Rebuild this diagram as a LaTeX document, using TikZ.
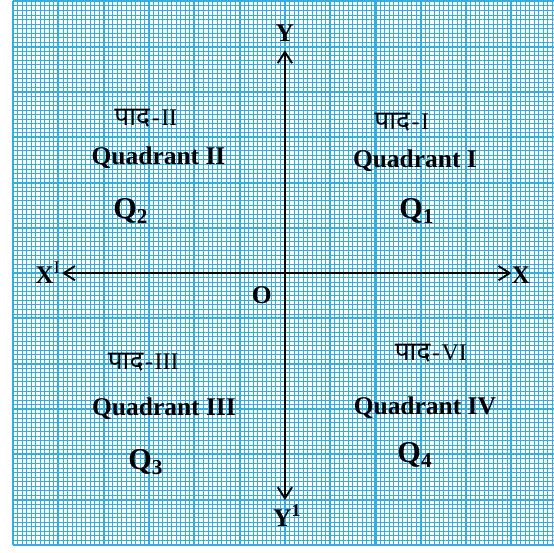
\documentclass[tikz,border=0pt]{standalone}
\usepackage{fontspec}
\setmainfont{Liberation Serif}
\newfontfamily\devfont[Script=Devanagari]{Noto Sans}
\usetikzlibrary{arrows.meta}
\definecolor{gridblue}{RGB}{52,174,226}
\newcommand{\padaword}{{\devfont\fontsize{16.5}{16.5}\selectfont पाद}\kern1pt-\kern1pt}

\begin{document}
\begin{tikzpicture}[>={Straight Barb[length=7pt,width=9pt]},
  axislabel/.style={font=\fontsize{16}{16}\selectfont\bfseries,inner sep=1pt},
  padaname/.style={font=\fontsize{15}{16}\selectfont},
  quadname/.style={font=\fontsize{16}{16}\selectfont\bfseries},
  qname/.style={font=\fontsize{19}{19}\selectfont\bfseries}]
\useasboundingbox[fill=white] (-6.29,-6.16) rectangle (5.94,6.03);
% graph paper
\begin{scope}
\clip (-6.29,-6.16) rectangle (5.94,6.03);
\draw[gridblue,line width=0.5pt] (-6,-6) grid[step=0.1] (6.5,6);
\draw[gridblue,line width=1.3pt] (-6,-6) grid[step=1] (6.5,6);
\end{scope}
% axes
\coordinate (xl) at (-4.92,0);
\coordinate (xr) at (5.0,0);
\coordinate (yt) at (0,4.92);
\coordinate (yb) at (0,-5.01);
\draw[<->,line width=1.2pt] (xl) -- (xr);
\draw[<->,line width=1.2pt] (yb) -- (yt);
\node[axislabel] (xneg) at (-5.23,0) {X\textsuperscript{\mdseries I}};
\node[axislabel] (xpos) at (5.21,-0.04) {X};
\node[axislabel] (ypos) at (0,5.30) {Y};
\node[axislabel] (yneg) at (0.05,-5.36) {Y\textsuperscript{1}};
\node[axislabel] (orig) at (-0.51,-0.49) {O};
% quadrant I
\node[padaname] (pada1) at (2.58,3.33) {\padaword I};
\node[quadname] (quad1) at (2.87,2.49) {Quadrant I};
\node[qname] (q1) at (2.91,1.37) {Q\textsubscript{1}};
% quadrant II
\node[padaname] (pada2) at (-3.07,3.42) {\padaword II};
\node[quadname] (quad2) at (-2.79,2.54) {Quadrant II};
\node[qname] (q2) at (-3.40,1.37) {Q\textsubscript{2}};
% quadrant III
\node[padaname] (pada3) at (-3.13,-1.96) {\padaword III};
\node[quadname] (quad3) at (-2.67,-3.0) {Quadrant III};
\node[qname] (q3) at (-3.07,-4.17) {Q\textsubscript{3}};
% quadrant IV
\node[padaname] (pada4) at (3.22,-1.77) {\padaword VI};
\node[quadname] (quad4) at (3.09,-2.98) {Quadrant IV};
\node[qname] (q4) at (2.87,-4.02) {Q\textsubscript{4}};
\end{tikzpicture}
\end{document}
